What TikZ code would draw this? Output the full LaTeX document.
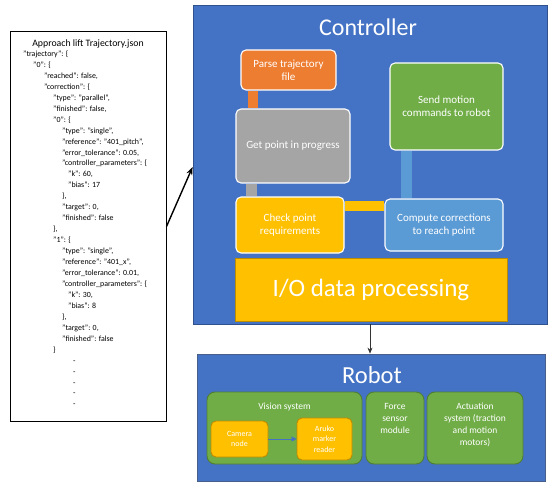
\documentclass[tikz,border=0pt]{standalone}
\usepackage{fontspec}
\setmainfont{Carlito}
\usetikzlibrary{arrows.meta}
\pgfdeclarelayer{panels}
\pgfdeclarelayer{links}
\pgfsetlayers{panels,links,main}
\definecolor{ctrlblue}{HTML}{4472C4}
\definecolor{ctrlborder}{HTML}{2F528F}
\definecolor{boxorange}{HTML}{ED7D31}
\definecolor{boxgrey}{HTML}{A5A5A5}
\definecolor{boxgreen}{HTML}{70AD47}
\definecolor{boxlblue}{HTML}{5B9BD5}
\definecolor{boxyellow}{HTML}{FFC000}
\definecolor{dkgreen}{HTML}{507E32}
\definecolor{dkyellow}{HTML}{BC8C00}
\newcommand{\jline}[3]{\node[jsontext] (j#1) at (#2, {54+10.95*(#1-1)}) {#3};}
\begin{document}
\begin{tikzpicture}[x=1pt,y=-1pt,
  panel/.style={draw=ctrlborder, line width=0.8pt, fill=ctrlblue},
  ctrlbox/.style={draw=white, line width=1.1pt, rounded corners=5pt, text=white,
    font=\fontsize{11}{13}\selectfont, align=center, inner sep=0pt},
  robbox/.style={draw=dkgreen, line width=0.9pt, fill=boxgreen, rounded corners=8pt, inner sep=0pt},
  subbox/.style={draw=dkyellow, line width=0.9pt, fill=boxyellow, rounded corners=5pt, inner sep=0pt,
    text=white, align=center, font=\fontsize{8}{10.5}\selectfont},
  roblabel/.style={text=white, align=center, font=\fontsize{9.5}{12}\selectfont},
  jsontext/.style={anchor=west, inner sep=0pt, text height=6pt, text depth=1pt,
    font=\fontsize{7.9}{9}\selectfont},
  link/.style={line width=#1}
]
\useasboundingbox (0,0) rectangle (550,487);

% JSON file box
\node[draw=black, line width=1pt, minimum width=156pt, minimum height=389pt, inner sep=0pt] (json) at (88,226.5) {};
\node[font=\fontsize{9.8}{11}\selectfont, inner sep=0pt] (jtitle) at (88,44) {Approach lift Trajectory.json};
\jline{1}{23}{"trajectory": \{}
\jline{2}{33}{"0": \{}
\jline{3}{44}{"reached": false,}
\jline{4}{44}{"correction": \{}
\jline{5}{53}{"type": "parallel",}
\jline{6}{53}{"finished": false,}
\jline{7}{53}{"0": \{}
\jline{8}{62}{"type": "single",}
\jline{9}{62}{"reference": "401\_pitch",}
\jline{10}{62}{"error\_tolerance": 0.05,}
\jline{11}{62}{"controller\_parameters": \{}
\jline{12}{68}{"k": 60,}
\jline{13}{68}{"bias": 17}
\jline{14}{62}{\},}
\jline{15}{62}{"target": 0,}
\jline{16}{62}{"finished": false}
\jline{17}{53}{\},}
\jline{18}{53}{"1": \{}
\jline{19}{62}{"type": "single",}
\jline{20}{62}{"reference": "401\_x",}
\jline{21}{62}{"error\_tolerance": 0.01,}
\jline{22}{62}{"controller\_parameters": \{}
\jline{23}{68}{"k": 30,}
\jline{24}{68}{"bias": 8}
\jline{25}{62}{\},}
\jline{26}{62}{"target": 0,}
\jline{27}{62}{"finished": false}
\jline{28}{53}{\}}
\jline{29}{73}{-}
\jline{30}{73}{-}
\jline{31}{73}{-}
\jline{32}{73}{-}
\jline{33}{73}{-}

% Controller panel
\begin{pgfonlayer}{panels}
\node[panel, minimum width=354pt, minimum height=319pt, inner sep=0pt] (ctrl) at (370,164.5) {};
\end{pgfonlayer}
\node[text=white, font=\fontsize{24}{28}\selectfont, inner sep=0pt] (ctitle) at (368,27) {Controller};

\node[ctrlbox, fill=boxorange, minimum width=95pt, minimum height=40pt] (parse) at (288.5,70) {Parse trajectory\\file};
\node[ctrlbox, fill=boxgrey, minimum width=114pt, minimum height=74pt] (getp) at (293,146) {Get point in progress};
\node[ctrlbox, fill=boxgreen, minimum width=113pt, minimum height=87pt] (send) at (446.5,106.5) {Send motion\\commands to robot};
\node[ctrlbox, fill=boxyellow, minimum width=108pt, minimum height=56pt] (check) at (290,225) {Check point\\requirements};
\node[ctrlbox, fill=boxlblue, minimum width=118pt, minimum height=52pt] (comp) at (444,225) {Compute corrections\\to reach point};

\begin{pgfonlayer}{links}
\draw[link=10pt, boxorange] ([xshift=13pt]parse.south west) -- ([xshift=18pt]getp.north west);
\draw[link=11pt, boxgrey] ([xshift=16.5pt]getp.south west) -- ([xshift=16.5pt]check.north west);
\draw[link=10pt, boxyellow] ([yshift=-9.7pt]check.north east) -- ([yshift=-7.7pt]comp.north west);
\draw[link=11pt, boxlblue] ([xshift=17.5pt]send.south west) -- ([xshift=22.5pt]comp.north west);
\end{pgfonlayer}

\node[draw=dkyellow, line width=0.6pt, fill=boxyellow, minimum width=272pt, minimum height=63pt, inner sep=0pt,
  text=white, font=\fontsize{25}{30}\selectfont] (io) at (371,289.5) {I/O data processing};

% Robot panel
\begin{pgfonlayer}{panels}
\node[panel, draw=ctrlborder!70!gray, minimum width=348pt, minimum height=127pt, inner sep=0pt] (robot) at (371,417.5) {};
\end{pgfonlayer}
\node[text=white, font=\fontsize{24.5}{28}\selectfont, inner sep=0pt] (rtitle) at (372,375) {Robot};

\node[robbox, minimum width=155pt, minimum height=72pt] (vision) at (284.5,428) {};
\node[roblabel] (vlabel) at ([yshift=-15pt]vision.north) {Vision system};
\node[robbox, minimum width=58pt, minimum height=72pt] (force) at (395,428) {};
\node[roblabel] (flabel) at ([yshift=-27pt]force.north) {Force\\sensor\\module};
\node[robbox, minimum width=96pt, minimum height=72pt] (act) at (475,428) {};
\node[roblabel] (alabel) at ([yshift=-33pt]act.north) {Actuation\\system (traction\\and motion\\motors)};

\node[subbox, minimum width=57pt, minimum height=36pt] (cam) at (239.5,439) {Camera\\node};
\node[subbox, minimum width=55pt, minimum height=42pt] (aruko) at (324.5,439) {Aruko\\marker\\reader};
\draw[-{Triangle[length=5pt,width=5pt]}, draw=ctrlblue, fill=ctrlblue, line width=0.8pt] (cam.east) -- (aruko.west);

% arrows between panels
\draw[-{Stealth[length=8pt,width=6pt]}, line width=1.4pt] (json.east) -- ([yshift=-2.5pt]ctrl.west);
\draw[-{Stealth[length=6pt,width=5pt]}, line width=0.6pt, draw=black!80] (ctrl.south) -- (ctrl.south |- robot.north);
\end{tikzpicture}
\end{document}
